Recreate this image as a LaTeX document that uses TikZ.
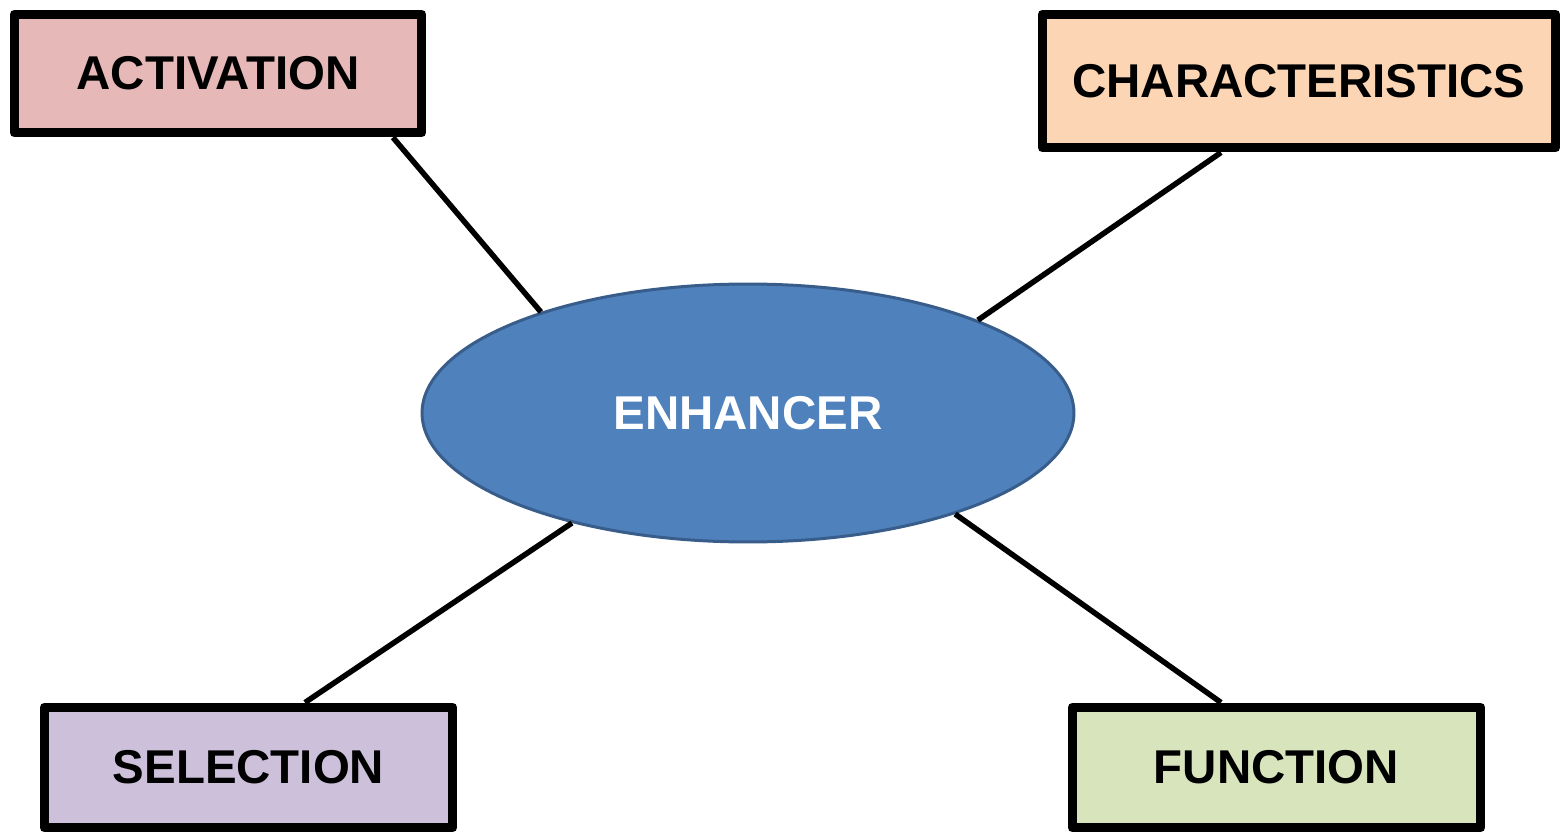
\documentclass[tikz,border=0pt]{standalone}
\usepackage{fontspec}
\setmainfont{Liberation Sans}
\usetikzlibrary{shapes.geometric}
\definecolor{actfill}{HTML}{E6B8B7}
\definecolor{charfill}{HTML}{FCD5B4}
\definecolor{selfill}{HTML}{CCC0DA}
\definecolor{funfill}{HTML}{D8E4BC}
\definecolor{ellfill}{HTML}{4F81BD}
\definecolor{elldraw}{HTML}{385D8A}
\tikzset{
  box/.style={draw=black, line width=0.18cm, rectangle, inner sep=0pt, line join=round,
    font=\fontsize{27}{30}\selectfont\bfseries, text=black},
  link/.style={draw=black, line width=0.11cm},
  hub/.style={ellipse, fill=ellfill, draw=elldraw, line width=0.06cm,
    minimum width=13.04cm, minimum height=5.16cm, inner sep=0pt,
    font=\fontsize{27}{30}\selectfont\bfseries, text=white}
}
\begin{document}
\begin{tikzpicture}[x=0.02cm,y=-0.02cm]
\useasboundingbox[fill=white] (0,0) rectangle (1563,835);
\node[hub] (enh) at (748,413) {ENHANCER};
\node[box, fill=actfill, minimum width=8.16cm, minimum height=2.38cm] (act) at (218,73.5) {ACTIVATION};
\node[box, fill=charfill, minimum width=10.28cm, minimum height=2.68cm] (char) at (1299,81) {CHARACTERISTICS};
\node[box, fill=selfill, minimum width=8.18cm, minimum height=2.42cm] (sel) at (248.5,767.5) {SELECTION};
\node[box, fill=funfill, minimum width=8.18cm, minimum height=2.42cm] (fun) at (1276.5,767.5) {FUNCTION};
\draw[link] ([xshift=3.5cm]act.south) -- (enh.154);
\draw[link] ([xshift=-1.56cm]char.south) -- (enh.22.3);
\draw[link] ([xshift=1.13cm]sel.north) -- (enh.212.8);
\draw[link] ([xshift=-1.11cm]fun.north) -- (enh.334.2);
\end{tikzpicture}
\end{document}
